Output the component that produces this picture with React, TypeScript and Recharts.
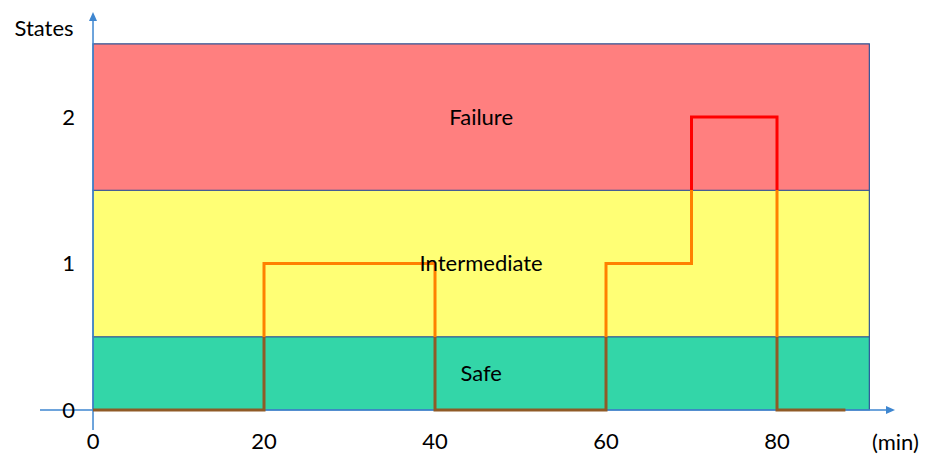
import React from "react";
import {
  ComposedChart,
  Line,
  XAxis,
  YAxis,
  ReferenceArea,
  ReferenceLine,
} from "recharts";

// step signal: minute -> state
const minutes = [0, 20, 40, 60, 70, 80, 88];
const states = [0, 1, 0, 1, 2, 0, 0];

const xTicks = [0, 20, 40, 60, 80];
const yTicks = [0, 1, 2];

// state bands
const bandNames = ["Safe", "Intermediate", "Failure"];
const bandFrom = [0, 0.5, 1.5];
const bandTo = [0.5, 1.5, 2.5];
const bandColors = ["#33D6A8", "#FFFF75", "#FF7F7F"];
const bandEnd = 90.8;

const data = minutes.map((m, i) => ({ min: m, state: states[i] }));

const FONT = "Lato, 'Liberation Sans', sans-serif";
const FS = 22;
const AXIS_BLUE = "#3E86D0";

const AxisArrow = (props: any) => {
  const { x1, y1, x2, y2, dir } = props;
  if (dir === "right") {
    const xe = Math.max(x1, x2);
    const xs = Math.min(x1, x2);
    return (
      <g>
        <line x1={xs} y1={y1} x2={xe - 6} y2={y1} stroke={AXIS_BLUE} strokeWidth={1.5} />
        <polygon points={`${xe},${y1} ${xe - 9},${y1 - 4} ${xe - 9},${y1 + 4}`} fill={AXIS_BLUE} />
      </g>
    );
  }
  const yt = Math.min(y1, y2);
  const yb = Math.max(y1, y2);
  return (
    <g>
      <line x1={x1} y1={yb} x2={x1} y2={yt + 6} stroke={AXIS_BLUE} strokeWidth={1.5} />
      <polygon points={`${x1},${yt} ${x1 - 4},${yt + 9} ${x1 + 4},${yt + 9}`} fill={AXIS_BLUE} />
    </g>
  );
};

export default function App() {
  return (
    <div style={{ position: "absolute", left: 0, top: 0 }}>
      <ComposedChart
        width={928}
        height={455}
        data={data}
        margin={{ top: 12, right: 33, left: 0, bottom: 0 }}
      >
        <defs>
          <linearGradient id="stateGrad" x1="0" y1="0" x2="0" y2="1">
            <stop offset="0" stopColor="#FF0000" />
            <stop offset="0.25" stopColor="#FF0000" />
            <stop offset="0.25" stopColor="#FF8000" />
            <stop offset="0.75" stopColor="#FF8000" />
            <stop offset="0.75" stopColor="#8F5A26" />
            <stop offset="1" stopColor="#8F5A26" />
          </linearGradient>
        </defs>
        <XAxis
          dataKey="min"
          type="number"
          domain={[-6.2, 93.8]}
          ticks={xTicks}
          axisLine={false}
          tickLine={false}
          tickSize={0}
          tickMargin={3}
          height={25}
          tick={{ fontSize: FS, fill: "#000", fontFamily: FONT }}
          label={{
            value: "(min)",
            position: "right",
            offset: -23,
            fontSize: FS,
            fill: "#000",
            fontFamily: FONT,
          }}
        />
        <YAxis
          type="number"
          domain={[-0.1365, 2.717]}
          ticks={yTicks}
          width={40}
          axisLine={false}
          tickLine={false}
          tickSize={0}
          tickMargin={-35}
          tick={{ fontSize: FS, fill: "#000", fontFamily: FONT }}
          label={{
            value: "States",
            position: "top",
            offset: -24,
            dx: 24,
            fontSize: FS,
            fill: "#000",
            fontFamily: FONT,
          }}
        />
        {bandNames.map((name, i) => (
          <ReferenceArea
            key={name}
            x1={0}
            x2={bandEnd}
            y1={bandFrom[i]}
            y2={bandTo[i]}
            fill={bandColors[i]}
            fillOpacity={1}
            stroke="#2F5597"
            strokeWidth={1.2}
            label={{
              value: name,
              position: "center",
              fontSize: FS,
              fill: "#000",
              fontFamily: FONT,
            }}
          />
        ))}
        <ReferenceLine y={0} shape={(p: any) => <AxisArrow {...p} dir="right" />} />
        <ReferenceLine x={0} shape={(p: any) => <AxisArrow {...p} dir="up" />} />
        <Line
          type="stepAfter"
          dataKey="state"
          stroke="url(#stateGrad)"
          strokeWidth={3}
          dot={false}
          activeDot={false}
          isAnimationActive={false}
        />
      </ComposedChart>
    </div>
  );
}
